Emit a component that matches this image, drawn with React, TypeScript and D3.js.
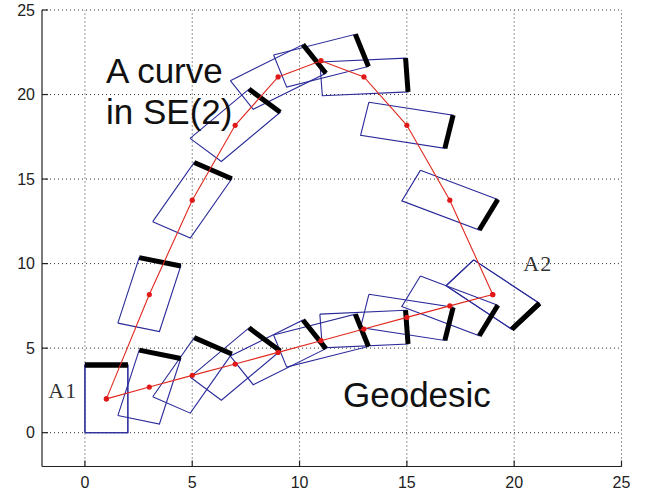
import React from "react";
import * as d3 from "d3";

// Poses along the arbitrary curve in SE(2) (centre x, centre y)
const curveX = [1, 3, 5, 7, 9, 11, 13, 15, 17, 19];
const curveY = [2.0, 8.17, 13.75, 18.18, 21.04, 22.0, 21.04, 18.18, 13.75, 8.17];

// Poses along the geodesic between A1 and A2
const geoX = [1, 3, 5, 7, 9, 11, 13, 15, 17, 19];
const geoY = [2.0, 2.7, 3.39, 4.06, 4.75, 5.44, 6.13, 6.82, 7.5, 8.17];

// Orientation of each pose (degrees), shared by both paths
const headingDeg = [0, -14.4, -28.9, -43.3, -57.8, -72.2, -86.7, -101.1, -115.6, -130];

const xTicks = [0, 5, 10, 15, 20, 25];
const yTicks = [0, 5, 10, 15, 20, 25];

const W = 662;
const H = 495;
const box = { left: 42, right: 621.5, top: 10, bottom: 466.5 };

const x = d3.scaleLinear().domain([-2, 25]).range([box.left, box.right]);
const y = d3.scaleLinear().domain([-2, 25]).range([box.bottom, box.top]);

// Body frame: 2 wide (local x) by 4 tall (local y), thick edge at local y = +2
const halfW = 1;
const halfH = 2;

type Pose = { cx: number; cy: number; th: number };

function toWorld(p: Pose, u: number, v: number): [number, number] {
  const c = Math.cos(p.th);
  const s = Math.sin(p.th);
  return [p.cx + u * c - v * s, p.cy + u * s + v * c];
}

function poses(xs: number[], ys: number[]): Pose[] {
  return xs.map((cx, i) => ({ cx, cy: ys[i], th: (headingDeg[i] * Math.PI) / 180 }));
}

const curvePoses = poses(curveX, curveY);
const geoPoses = poses(geoX, geoY);

const line = d3
  .line<[number, number]>()
  .x((d) => x(d[0]))
  .y((d) => y(d[1]));

function Frame({ p }: { p: Pose }) {
  const corners: [number, number][] = [
    toWorld(p, -halfW, -halfH),
    toWorld(p, halfW, -halfH),
    toWorld(p, halfW, halfH),
    toWorld(p, -halfW, halfH),
    toWorld(p, -halfW, -halfH),
  ];
  return (
    <path d={line(corners) || ""} fill="none" stroke="#2a2a9a" strokeWidth={1.1} />
  );
}

function Edge({ p }: { p: Pose }) {
  const e: [number, number][] = [toWorld(p, -halfW, halfH), toWorld(p, halfW, halfH)];
  return <path d={line(e) || ""} fill="none" stroke="#000" strokeWidth={5} />;
}

function Path({ ps }: { ps: Pose[] }) {
  const pts: [number, number][] = ps.map((p) => [p.cx, p.cy]);
  return (
    <g>
      <path d={line(pts) || ""} fill="none" stroke="#e0281e" strokeWidth={1.1} />
      {pts.map((d, i) => (
        <circle key={i} cx={x(d[0])} cy={y(d[1])} r={2.6} fill="#e01818" />
      ))}
    </g>
  );
}

// Fixed-pitch label drawn one glyph per cell
function MonoLabel({ text, left, base }: { text: string; left: number; base: number }) {
  const pitch = 14.5;
  return (
    <g fontFamily="'Liberation Serif', 'DejaVu Serif', serif" fontSize={22} fill="#333">
      {text.split("").map((ch, i) => (
        <text key={i} x={left + pitch * (i + 0.5)} y={base} textAnchor="middle">
          {ch}
        </text>
      ))}
    </g>
  );
}

export default function App() {
  const sans = "'Liberation Sans', Arial, Helvetica, sans-serif";
  const allPoses = [...curvePoses.slice(1), ...geoPoses];
  return (
    <svg
      width={W}
      height={H}
      style={{ position: "absolute", left: 0, top: 0, background: "#fff" }}
    >
      <rect x={0} y={0} width={W} height={H} fill="#fff" />

      {/* dotted grid */}
      <g stroke="#333" strokeWidth={1} strokeDasharray="1,3">
        {xTicks.map((t) => (
          <line key={"gx" + t} x1={x(t)} x2={x(t)} y1={box.bottom} y2={box.top} />
        ))}
        {yTicks.map((t) => (
          <line key={"gy" + t} x1={box.left} x2={box.right} y1={y(t)} y2={y(t)} />
        ))}
      </g>

      {/* axes with inward ticks */}
      <g stroke="#222" strokeWidth={1.2}>
        <line x1={box.left} x2={box.left} y1={box.top} y2={box.bottom} />
        <line x1={box.left} x2={box.right} y1={box.bottom} y2={box.bottom} />
        {xTicks.map((t) => (
          <line key={"tx" + t} x1={x(t)} x2={x(t)} y1={box.bottom} y2={box.bottom - 6} />
        ))}
        {yTicks.map((t) => (
          <line key={"ty" + t} x1={box.left} x2={box.left + 6} y1={y(t)} y2={y(t)} />
        ))}
      </g>
      <g fontFamily={sans} fontSize={16} fill="#222">
        {xTicks.map((t) => (
          <text key={"lx" + t} x={x(t)} y={488} textAnchor="middle">
            {t}
          </text>
        ))}
        {yTicks.map((t) => (
          <text key={"ly" + t} x={35} y={y(t) + 5.5} textAnchor="end">
            {t}
          </text>
        ))}
      </g>

      {/* body frames */}
      <Frame p={curvePoses[0]} />
      {allPoses.map((p, i) => (
        <Frame key={"f" + i} p={p} />
      ))}
      <Edge p={curvePoses[0]} />
      {allPoses.map((p, i) => (
        <Edge key={"e" + i} p={p} />
      ))}

      <Path ps={curvePoses} />
      <Path ps={geoPoses} />

      <g fontFamily={sans} fontSize={35} fill="#111">
        <text x={106} y={83}>A curve</text>
        <text x={106} y={124}>in SE(2)</text>
        <text x={343} y={407}>Geodesic</text>
      </g>
      <MonoLabel text="A1" left={49} base={398} />
      <MonoLabel text="A2" left={524} base={271} />
    </svg>
  );
}
